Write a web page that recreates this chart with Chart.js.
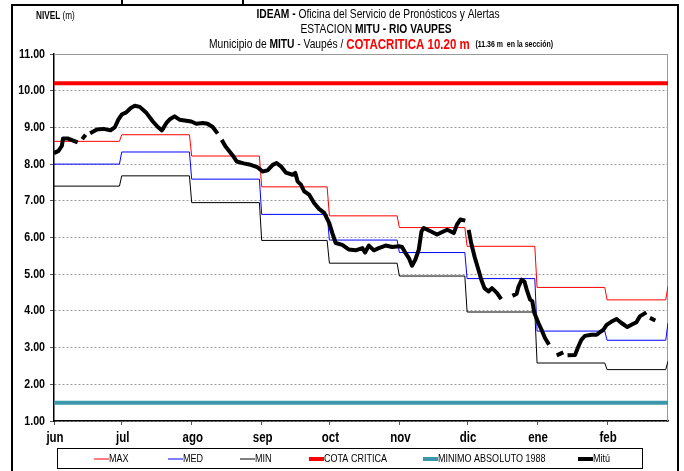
<!DOCTYPE html>
<html>
<head>
<meta charset="utf-8">
<script src="https://cdn.jsdelivr.net/npm/chart.js@4.4.1/dist/chart.umd.min.js"></script>
<style>
   html, body { margin: 0; padding: 0; background: #fff; }
   #wrap { width: 684px; height: 471px; }
</style>
</head>
<body>
<div id="wrap"><canvas id="grafica" width="684" height="471"></canvas></div>
<script>
// Datos
// ----------------------------------------------
const meses      = [ 'jun', 'jul', 'ago', 'sep', 'oct', 'nov', 'dic', 'ene', 'feb' ];
const inicioMes  = [ 0, 30, 61, 92, 122, 153, 183, 214, 245 ];
const finSerie   = 272;

// niveles mensuales (el ultimo valor es el del cierre, 1 de marzo)
const nivelMax   = [ 8.62, 8.80, 8.22, 7.38, 6.59, 6.27, 5.76, 4.64, 4.30, 4.67 ];
const nivelMed   = [ 8.00, 8.33, 7.59, 6.63, 5.93, 5.59, 4.88, 3.45, 3.20, 3.67 ];
const nivelMin   = [ 7.40, 7.68, 6.95, 5.92, 5.30, 4.95, 3.97, 2.58, 2.40, 2.63 ];
const cotaCritica    = 10.20;
const minimoAbsoluto = 1.50;

// Mitu: dia desde el 1 de junio y nivel (null = sin dato)
const mituDia = [
   0, 2, 3.5, 4, 6, 8.5, 10.5, 11.5, 12.5, 14, 15, 16, 19, 22, 25, 27, 28.5, 30, 32, 34,
   35.8, 38, 41, 43.8, 46, 47.8, 49.8, 51.5, 53.4, 55.6, 58.6, 60.8, 63, 66, 68, 70.3, 72.5, 73.3, 74.3, 76, 79,
   81, 84, 86.5, 90, 92.4, 94.6, 96.9, 98.6, 100.5, 102.7, 105.7, 106.9, 107.9, 109.4, 110.8, 113, 115.2, 117.4, 119.7, 121.9,
   123.3, 124.8, 127.7, 130.7, 133.6, 136.6, 137.8, 139.5, 141.7, 143.9, 146.9, 149.8, 152.8, 154.2, 155.7, 157.2, 158.6, 160.1, 161.6, 162.8,
   163.8, 166.8, 169.7, 172.7, 174.2, 175.6, 177.1, 178.5, 180, 182.2, 183, 183.7, 184.8, 186.3, 187.8, 189.3, 190.7, 192.5, 194, 196.2,
   198.1, 200, 203.1, 205, 205.7, 207.2, 208.4, 209.4, 210.9, 211.9, 212.8, 214.6, 216.3, 217.5, 219.3, 221, 222.7, 225.6, 226.5, 227.5,
   230.8, 232.3, 233.7, 235.2, 238.1, 240.4, 242.3, 243.3, 244.8, 247, 249.2, 251.4, 254, 255.8, 258, 259.5, 262.4, 263.5, 264, 266.4
];
const mituNivel = [
   8.30, 8.36, 8.50, 8.70, 8.70, 8.64, 8.59, null, 8.68, 8.80, null, 8.84, 8.94, 8.96, 8.92, 9.01, 9.21, 9.35, 9.41, 9.53,
   9.59, 9.56, 9.39, 9.16, 9.01, 8.92, 9.12, 9.23, 9.30, 9.21, 9.18, 9.16, 9.10, 9.12, 9.10, 9.01, 8.83, null, 8.66, 8.48, 8.25,
   8.07, 8.02, 7.99, 7.92, 7.80, 7.83, 7.98, 8.03, 7.94, 7.77, 7.71, 7.76, 7.53, 7.44, 7.26, 7.17, 6.94, 6.78, 6.67, 6.40,
   6.12, 5.85, 5.80, 5.67, 5.65, 5.71, 5.59, 5.78, 5.65, 5.71, 5.78, 5.74, 5.76, 5.74, 5.58, 5.44, 5.23, 5.40, 5.67, 6.17,
   6.26, 6.17, 6.08, 6.17, 6.21, 6.17, 6.12, 6.35, 6.49, 6.46, null, 6.21, 5.85, 5.48, 5.17, 4.85, 4.62, 4.53, 4.62, 4.49,
   4.32, null, 4.41, 4.47, 4.65, 4.85, 4.80, 4.58, 4.31, 4.26, 3.94, 3.67, 3.44, 3.26, 3.08, null, 2.79, 2.87, null, 2.79,
   2.80, 3.03, 3.22, 3.32, 3.35, 3.35, 3.44, 3.48, 3.62, 3.71, 3.78, 3.67, 3.56, 3.62, 3.69, 3.85, 3.96, null, 3.81, 3.74
];

const FAMILIA = '"Liberation Sans", Arial, sans-serif';
const ANGOSTO = 0.82;   // imita Arial Narrow
const fuente  = ( size, bold ) => `${ bold ? 'bold ' : '' }${ size }px ${ FAMILIA }`;

// escalones mensuales -> puntos
function escalones( valores ) {
   const pts = [];
   inicioMes.forEach( ( ini, i ) => {
      const fin = ( i < inicioMes.length - 1 ? inicioMes[ i + 1 ] : finSerie ) - 1;
      pts.push( { x: ini, y: valores[ i ] }, { x: fin, y: valores[ i ] } );
   });
   pts.push( { x: finSerie, y: valores[ valores.length - 1 ] } );
   return pts;
}
const constante = v => [ { x: 0, y: v }, { x: finSerie, y: v } ];


// Textos, marco y leyenda
// ----------------------------------------------
function texto( ctx, t, x, y ) {
   ctx.save();
   ctx.translate( x, y );
   ctx.scale( ANGOSTO, 1 );
   ctx.fillText( t, 0, 0 );
   ctx.restore();
   return ctx.measureText( t ).width * ANGOSTO;
}

function textoRico( ctx, partes, cx, y ) {
   let total = 0;
   partes.forEach( p => { ctx.font = fuente( p.s, p.b ); p.w = ctx.measureText( p.t ).width * ANGOSTO; total += p.w; });
   let x = cx - total / 2;
   partes.forEach( p => {
      ctx.font = fuente( p.s, p.b );
      ctx.fillStyle = p.c || '#000';
      texto( ctx, p.t, x, y );
      x += p.w;
   });
}

const adornos = {
   id: 'adornos',
   beforeDatasetsDraw( chart ) {
      const { ctx, chartArea: a } = chart;
      ctx.save();
      ctx.strokeStyle = '#9a9a9a';
      ctx.lineWidth = 1;
      ctx.beginPath();
      ctx.moveTo( a.left, a.top + 0.5 );
      ctx.lineTo( a.right - 0.5, a.top + 0.5 );
      ctx.lineTo( a.right - 0.5, a.bottom );
      ctx.stroke();
      ctx.restore();
   },
   afterDraw( chart ) {
      const ctx = chart.ctx;
      ctx.save();

      // marco exterior
      ctx.strokeStyle = '#000';
      ctx.lineWidth = 2;
      ctx.beginPath();
      ctx.moveTo( 12, 471 ); ctx.lineTo( 12, 5 ); ctx.lineTo( 678, 5 ); ctx.lineTo( 678, 471 );
      ctx.moveTo( 122, 0 ); ctx.lineTo( 122, 5 );
      ctx.moveTo( 243, 0 ); ctx.lineTo( 243, 5 );
      ctx.stroke();

      // eje y: etiquetas
      const ey = chart.scales.y;
      ctx.textBaseline = 'middle';
      ctx.font = fuente( 13, true );
      ctx.fillStyle = '#000';
      ey.ticks.forEach( tk => {
         const lbl = tk.value.toFixed( 2 );
         const w = ctx.measureText( lbl ).width * ANGOSTO;
         texto( ctx, lbl, 45 - w, ey.getPixelForValue( tk.value ) );
      });

      // eje x: etiquetas
      const ex = chart.scales.x;
      ctx.font = fuente( 14, true );
      inicioMes.forEach( ( d, i ) => {
         const w = ctx.measureText( meses[ i ] ).width * ANGOSTO;
         texto( ctx, meses[ i ], ex.getPixelForValue( d ) - w / 2 + 1, 438 );
      });

      // titulos
      textoRico( ctx, [ { t: 'IDEAM - ', s: 12.5, b: true }, { t: 'Oficina del Servicio de Pronósticos y Alertas', s: 12.5 } ], 378, 15 );
      textoRico( ctx, [ { t: 'ESTACION ', s: 12.5 }, { t: 'MITU - RIO VAUPES', s: 12.5, b: true } ], 376, 30 );
      textoRico( ctx, [
         { t: 'Municipio de ', s: 12.5 }, { t: 'MITU', s: 12.5, b: true }, { t: ' - Vaupés / ', s: 12.5 },
         { t: 'COTACRITICA 10.20 m', s: 14, b: true, c: '#ff0000' }, { t: '   (11.36 m  en la sección)', s: 8.5, b: true }
      ], 381, 45 );
      ctx.font = fuente( 10, true );
      ctx.fillStyle = '#000';
      const wN = texto( ctx, 'NIVEL ', 36, 16 );
      ctx.font = fuente( 10, false );
      texto( ctx, '(m)', 36 + wN, 16 );

      // leyenda
      ctx.lineWidth = 1;
      ctx.strokeStyle = '#000';
      ctx.strokeRect( 57.5, 448.5, 585, 20 );
      const posX = [ 94, 168, 240, 309, 423, 578 ];
      chart.data.datasets.forEach( ( ds, i ) => {
         const x = posX[ i ], y = 459;
         ctx.strokeStyle = ds.borderColor;
         ctx.lineWidth = ds.borderWidth;
         ctx.beginPath();
         ctx.moveTo( x, y ); ctx.lineTo( x + 15, y );
         ctx.stroke();
         ctx.font = fuente( 11, false );
         ctx.fillStyle = '#000';
         texto( ctx, ds.label, x + 15, y );
      });
      ctx.restore();
   }
};


// Grafica
// ----------------------------------------------
const lineaBase = { pointRadius: 0, fill: false, tension: 0, spanGaps: false, order: 1 };

new Chart( document.getElementById( 'grafica' ), {
   type: 'line',
   data: {
      datasets: [
         { ...lineaBase, label: 'MAX', data: escalones( nivelMax ), borderColor: '#ff0000', borderWidth: 1 },
         { ...lineaBase, label: 'MED', data: escalones( nivelMed ), borderColor: '#0000ff', borderWidth: 1 },
         { ...lineaBase, label: 'MIN', data: escalones( nivelMin ), borderColor: '#000000', borderWidth: 1 },
         { ...lineaBase, label: 'COTA CRITICA', data: constante( cotaCritica ), borderColor: '#ff0000', borderWidth: 4 },
         { ...lineaBase, label: 'MINIMO ABSOLUTO 1988', data: constante( minimoAbsoluto ), borderColor: '#3b97a9', borderWidth: 4 },
         {
            ...lineaBase,
            label: 'Mitú',
            data: mituDia.map( ( d, i ) => ( { x: d, y: mituNivel[ i ] } ) ),
            borderColor: '#000000',
            borderWidth: 4,
            borderJoinStyle: 'round',
            order: 0
         }
      ]
   },
   options: {
      responsive: false,
      animation: false,
      devicePixelRatio: 1,
      layout: { padding: { top: 54, right: 16, left: 0, bottom: 0 } },
      plugins: {
         legend: { display: false },
         title: { display: false },
         tooltip: { enabled: false }
      },
      scales: {
         x: {
            type: 'linear',
            min: 0,
            max: finSerie,
            afterBuildTicks: axis => { axis.ticks = inicioMes.map( v => ( { value: v } ) ); },
            afterFit: axis => { axis.height = 50; },
            border: { color: '#000', width: 1.5 },
            grid: { drawOnChartArea: false, drawTicks: true, tickLength: 4, tickColor: '#555', tickWidth: 1 },
            ticks: { display: false }
         },
         y: {
            min: 1,
            max: 11,
            afterFit: axis => { axis.width = 54; },
            border: { color: '#000', width: 1.5, dash: [ 2, 2 ] },
            grid: { color: '#9a9a9a', lineWidth: 1, drawTicks: true, tickLength: 4, tickColor: '#555' },
            ticks: { stepSize: 1, display: false }
         }
      }
   },
   plugins: [ adornos ]
});
</script>
</body>
</html>
